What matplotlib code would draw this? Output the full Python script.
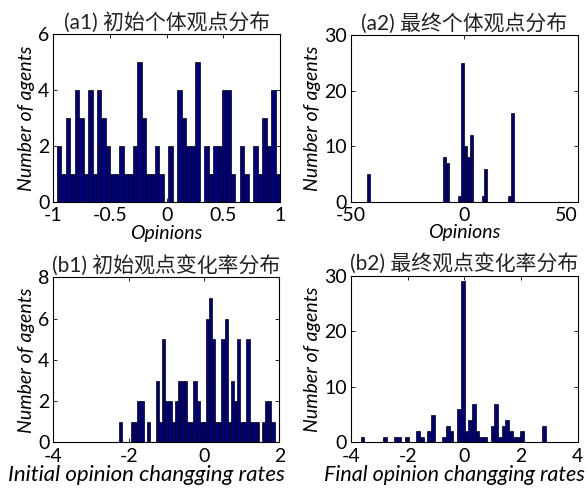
import numpy as np
import matplotlib
matplotlib.use("Agg")
import matplotlib.pyplot as plt

plt.rcParams['font.family'] = ['Lato', 'Noto Sans CJK SC', 'DejaVu Sans']

# histogram counts, 50 bins each (100 agents per panel)
a1_range = (-0.97, 1.0)
a1_counts = [2, 1, 3, 1, 4, 3, 1, 4, 1, 4,
             3, 2, 1, 1, 2, 1, 1, 2, 5, 3,
             1, 1, 2, 1, 0, 2, 0, 4, 3, 2,
             2, 5, 0, 2, 1, 2, 2, 4, 4, 1,
             0, 2, 1, 0, 2, 1, 3, 2, 4, 1]

a2_range = (-43.1, 21.9)
a2_counts = [5, 0, 0, 0, 0, 0, 0, 0, 0, 0,
             0, 0, 0, 0, 0, 0, 0, 0, 0, 0,
             0, 0, 0, 0, 0, 0, 8, 7, 0, 0,
             0, 1, 25, 10, 8, 12, 0, 0, 0, 1,
             6, 0, 0, 0, 0, 0, 0, 0, 1, 16]

b1_range = (-2.27, 1.87)
b1_counts = [1, 0, 0, 0, 1, 1, 2, 2, 0, 1,
             0, 0, 3, 1, 5, 2, 2, 1, 2, 3,
             3, 3, 1, 1, 3, 2, 1, 1, 6, 7,
             5, 1, 1, 5, 6, 1, 3, 2, 5, 1,
             1, 5, 1, 1, 1, 0, 1, 2, 2, 1]

b2_range = (-3.66, 2.89)
b2_counts = [1, 0, 0, 0, 0, 0, 1, 0, 0, 1,
             1, 0, 1, 0, 0, 2, 1, 0, 2, 5,
             0, 0, 1, 3, 2, 0, 6, 29, 2, 4,
             7, 2, 1, 1, 0, 3, 7, 1, 3, 4,
             2, 1, 1, 2, 0, 0, 0, 0, 0, 3]

titles = ["(a1) 初始个体观点分布", "(a2) 最终个体观点分布",
          "(b1) 初始观点变化率分布", "(b2) 最终观点变化率分布"]
xlabels = ["Opinions", "Opinions",
           "Initial opinion changging rates", "Final opinion changging rates"]
xlims = [(-1, 1), (-50, 50), (-4, 2), (-4, 4)]
xticks = [[-1, -0.5, 0, 0.5, 1], [-50, 0, 50], [-4, -2, 0, 2], [-4, -2, 0, 2, 4]]
xticklabels = [["-1", "-0.5", "0", "0.5", "1"], ["-50", "0", "50"],
               ["-4", "-2", "0", "2"], ["-4", "-2", "0", "2", "4"]]
ylims = [(0, 6), (0, 30), (0, 8), (0, 30)]
yticks = [[0, 2, 4, 6], [0, 10, 20, 30], [0, 2, 4, 6, 8], [0, 10, 20, 30]]

ranges = [a1_range, a2_range, b1_range, b2_range]
counts = [a1_counts, a2_counts, b1_counts, b2_counts]

# axes boxes in figure fractions
boxes = [[0.091, 0.588, 0.386, 0.342],
         [0.598, 0.588, 0.386, 0.340],
         [0.091, 0.097, 0.385, 0.337],
         [0.598, 0.097, 0.386, 0.340]]
# x label centres (axes fraction), the lower labels sit a bit left
xlabel_x = [0.5, 0.5, 0.41, 0.456]
xlabel_size = [14, 14, 16, 15.5]

fig = plt.figure(figsize=(5.87, 4.9), dpi=100)

for i in range(4):
    ax = fig.add_axes(boxes[i])
    lo, hi = ranges[i]
    edges = np.linspace(lo, hi, len(counts[i]) + 1)
    ax.bar(edges[:-1], counts[i], width=np.diff(edges), align='edge',
           color='#00007f', edgecolor='black', linewidth=0.5)
    ax.set_xlim(*xlims[i])
    ax.set_ylim(*ylims[i])
    ax.set_xticks(xticks[i])
    ax.set_xticklabels(xticklabels[i])
    ax.set_yticks(yticks[i])
    ax.tick_params(direction='in', length=3, width=0.6, top=True, right=True,
                   labelsize=14, pad=3, colors='black')
    ax.tick_params(axis='x', pad=4)
    for s in ax.spines.values():
        s.set_linewidth(0.8)
    ax.set_title(titles[i], fontsize=15, pad=4, color='#222222')
    ax.set_xlabel(xlabels[i], fontsize=xlabel_size[i], style='italic')
    ax.xaxis.set_label_coords(xlabel_x[i], -0.135)
    ax.set_ylabel("Number of agents", fontsize=14, style='italic', labelpad=2)
    # keep the right-most tick label inside the figure
    if i == 1:
        ax.get_xticklabels()[-1].set_horizontalalignment('right')

fig.savefig("out.png", dpi=100)
